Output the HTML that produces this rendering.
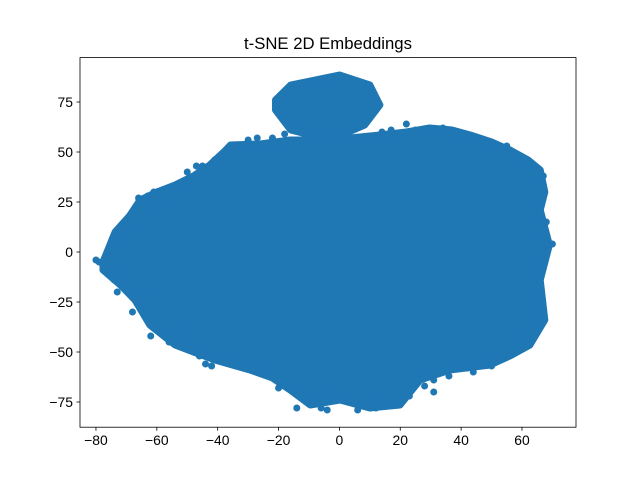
<!DOCTYPE html>
<html><head><meta charset="utf-8"><style>
body{margin:0;background:#fff;}
svg{display:block;font-family:"Liberation Sans","DejaVu Sans",sans-serif;}
</style></head><body>
<svg id="chart" width="640" height="480">
<rect x="0" y="0" width="640" height="480" fill="#fff"></rect>
<text x="328" y="49" text-anchor="middle" font-size="16.7">t-SNE 2D Embeddings</text>
<g id="marks"></g>
<rect x="80" y="57.6" width="496" height="369.6" fill="none" stroke="#000" stroke-width="0.8"></rect>
<g id="xaxis"></g>
<g id="yaxis"></g>
</svg>
<script>
const xTicks=[-80,-60,-40,-20,0,20,40,60];
const yTicks=[-75,-50,-25,0,25,50,75];
const mainX=[-77.7,-73.7,-69,-65.5,-60,-54,-48,-42.6,-38,-35.8,-26,-16.2,-3,13.3,22,29.7,37,43,50,56,62,66,67.5,66,69,66,67.5,62.6,56,49.5,36.3,26.5,19.9,10,0.2,-9.6,-16.2,-22,-29.4,-40.9,-48,-54,-62.3,-67.2,-72,-77.7];
const mainY=[-5,10,18,26,30,33.5,38,43.5,50,53.5,54,56,56,58.5,60,62,61,58.5,55,51,46,41,30,21,3.5,-14,-34,-46.5,-52,-56.5,-59,-64,-76.5,-78,-74,-76.5,-69,-63,-59,-54,-50,-46.5,-36.5,-24,-16.5,-9];
const topX=[-21,-16,0,10,13.3,8.3,-3,-16,-21];
const topY=[76,83.5,88.5,83.5,73.5,63.5,56,61,71];
const extraX=[-80,-79,-75,-74,-70,-65,-64,-56,-52,-46,-44,-33,-24,-12,-6,3,12,19,31,42,50,60,63,65,69,70,67,66,64,62,52,44,38,31,20,13,6,-2,-12,-14,-20,-38,-49,-56,-60,-66,-72,-70,-69,-47,-30,-18,-10,14,22,26,-63,-61,-58,-54,-50,-45,-41,-36,-27,-22,-8,8,17,25,34,40,47,55,59,63,66,68,66,58,46,36,28,23,-4,-26,-34,-42,-62,-68,-73,-76,-60];
const extraY=[-4,-5,-8,-14,-15,-20,-27,-45,-38,-52,-56,-55,-58,-73,-78,-75,-78,-76,-70,-58,-57,-47,-44,-13,4,4,38,25,-7,-34,-50,-60,-56,-64,-75,-73,-79,-70,-66,-78,-68,-50,-44,-30,-20,27,3,8,12,43,56,59,56,60,64,60,28,30,24,33,40,43,46,52,57,57,58,57,61,61,62,59,56,53,48,44,35,15,-25,-40,-55,-62,-67,-72,-79,-60,-57,-57,-42,-30,-20,-10,20];
const X0=80,X1=576,Y0=57.6,Y1=427.2;
const sx=v=>339.4+v*3.043;
const sy=v=>252-v*2;
const NS="http://www.w3.org/2000/svg";
const marks=document.getElementById('marks');
function poly(xs,ys,name){
  const p=document.createElementNS(NS,'polygon');
  p.setAttribute('points',xs.map((x,i)=>sx(x)+','+sy(ys[i])).join(' '));
  p.setAttribute('fill','#1f77b4');p.setAttribute('stroke','#1f77b4');
  p.setAttribute('stroke-width','7');p.setAttribute('stroke-linejoin','round');
  
  
  marks.appendChild(p);
}
poly(mainX,mainY,'main-cluster');
poly(topX,topY,'top-cluster');
extraX.forEach((x,i)=>{
  const c=document.createElementNS(NS,'circle');
  c.setAttribute('cx',sx(x));c.setAttribute('cy',sy(extraY[i]));c.setAttribute('r',3.5);
  c.setAttribute('fill','#1f77b4');
  
  
  marks.appendChild(c);
});
const xa=document.getElementById('xaxis'),ya=document.getElementById('yaxis');
xTicks.forEach(t=>{
  const x=sx(t);
  const l=document.createElementNS(NS,'line');
  l.setAttribute('x1',x);l.setAttribute('x2',x);l.setAttribute('y1',Y1);l.setAttribute('y2',Y1+3.5);
  l.setAttribute('stroke','#000');l.setAttribute('stroke-width','0.8');
  
  
  xa.appendChild(l);
  const tx=document.createElementNS(NS,'text');
  tx.setAttribute('x',x);tx.setAttribute('y',Y1+18);tx.setAttribute('text-anchor','middle');tx.setAttribute('font-size','13.9');
  tx.textContent=t<0?'\u2212'+Math.abs(t):String(t);
  
  
  xa.appendChild(tx);
});
yTicks.forEach(t=>{
  const y=sy(t);
  const l=document.createElementNS(NS,'line');
  l.setAttribute('x1',X0-3.5);l.setAttribute('x2',X0);l.setAttribute('y1',y);l.setAttribute('y2',y);
  l.setAttribute('stroke','#000');l.setAttribute('stroke-width','0.8');
  
  
  ya.appendChild(l);
  const tx=document.createElementNS(NS,'text');
  tx.setAttribute('x',X0-7);tx.setAttribute('y',y+5);tx.setAttribute('text-anchor','end');tx.setAttribute('font-size','13.9');
  tx.textContent=t<0?'\u2212'+Math.abs(t):String(t);
  
  
  ya.appendChild(tx);
});
</script>
</body></html>
